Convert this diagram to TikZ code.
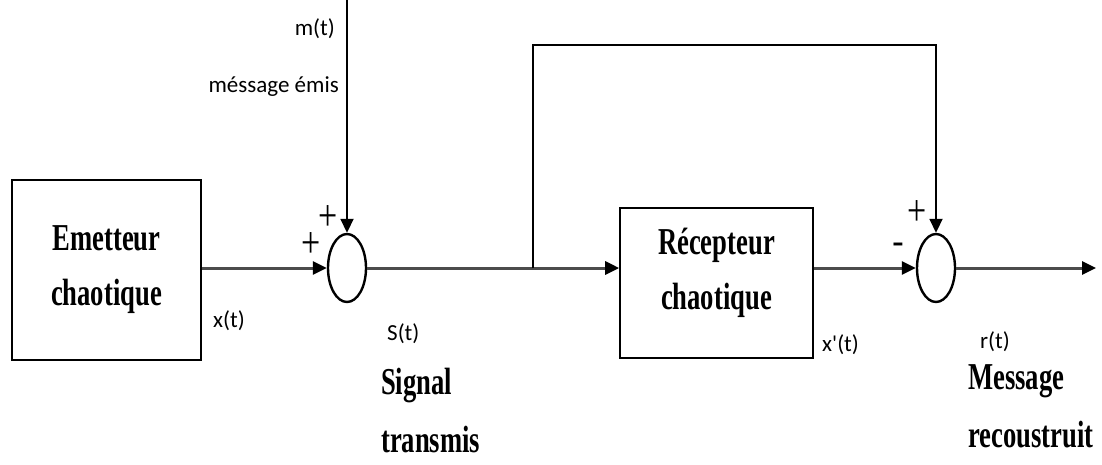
\documentclass[tikz,border=0pt]{standalone}
\usepackage{fontspec}
\setmainfont{Liberation Serif}
\newfontfamily\lblfont{Carlito}
\usetikzlibrary{shapes.geometric, arrows.meta, positioning}
\newcommand{\cnd}[1]{\scalebox{0.7}[1]{#1}}

\begin{document}
\begin{tikzpicture}[x=1pt, y=1pt,
  blk/.style={draw, line width=1.6pt, inner sep=0pt, align=center, font=\fontsize{38}{55}\selectfont\bfseries},
  blktxt/.style={inner sep=0pt, align=center, font=\fontsize{38}{55}\selectfont\bfseries},
  sumnode/.style={draw, ellipse, line width=2.4pt, minimum width=38pt, minimum height=68pt, inner sep=0pt},
  sig/.style={line width=3pt, black!70},
  wire/.style={line width=1.8pt},
  tip/.style={-{Triangle[length=14pt, width=13pt, color=black]}},
  lbl/.style={font=\lblfont\fontsize{23}{27}\selectfont, inner sep=0pt},
  sgn/.style={font=\fontsize{34}{34}\selectfont, inner sep=0pt},
  bigtxt/.style={inner sep=0pt, align=left, font=\fontsize{38}{58}\selectfont\bfseries}]
  \useasboundingbox (0,0) rectangle (1102,-464);

  % blocks and summers
  \node[blk, minimum width=189pt, minimum height=180pt] (emetteur) at (106.5,-270) {\cnd{Emetteur}\\\cnd{chaotique}};
  \node[sumnode] (sum1) at (347,-268) {};
  \node[blk, minimum width=193pt, minimum height=150pt,
    label={[blktxt, yshift=10pt]center:{\cnd{Récepteur}\\\cnd{chaotique}}}] (recepteur) at (716.5,-283) {};
  \node[sumnode] (sum2) at (936,-268) {};

  \coordinate (mtop) at (347,0);
  \coordinate (split) at (533,-268);
  \coordinate (fbk) at (533,-45);
  \coordinate (out) at (1096,-268);

  % connections
  \draw[sig, tip] (emetteur.east |- sum1.west) -- (sum1.west);
  \draw[sig] (sum1.east) -- (split);
  \draw[sig, tip] (split) -- (recepteur.west |- split);
  \draw[sig, tip] (recepteur.east |- sum2.west) -- (sum2.west);
  \draw[sig, tip] (sum2.east) -- (out);
  \draw[wire, tip] (mtop) -- (sum1.north);
  \draw[wire, tip] (split) -- (fbk) -| (sum2.north);

  % labels
  \node[lbl, anchor=east] (mt) at (335,-29) {m(t)};
  \node[lbl, anchor=east] (memis) at (339,-87) {méssage émis};
  \node[lbl, anchor=west] (xt) at (213,-321) {x(t)};
  \node[lbl, anchor=west] (st) at (387,-334) {S(t)};
  \node[lbl, anchor=west] (xpt) at (822,-345) {x'(t)};
  \node[lbl, anchor=west] (rt) at (980,-342) {r(t)};
  \node[bigtxt, anchor=north west] (sigtx) at (381,-368) {\cnd{Signal}\\\cnd{transmis}};
  \node[bigtxt, anchor=north west] (msg) at (968,-364) {\cnd{Message}\\\cnd{recoustruit}};

  % signs
  \node[sgn] (p1) at (311,-245) {\scalebox{1}[1.3]{+}};
  \node[sgn] (p2) at (328,-218) {\scalebox{1}[1.3]{+}};
  \node[sgn] (p3) at (917,-213) {\scalebox{1}[1.3]{+}};
  \node[sgn] (m3) at (898,-248) {\textbf{-}};
\end{tikzpicture}
\end{document}
